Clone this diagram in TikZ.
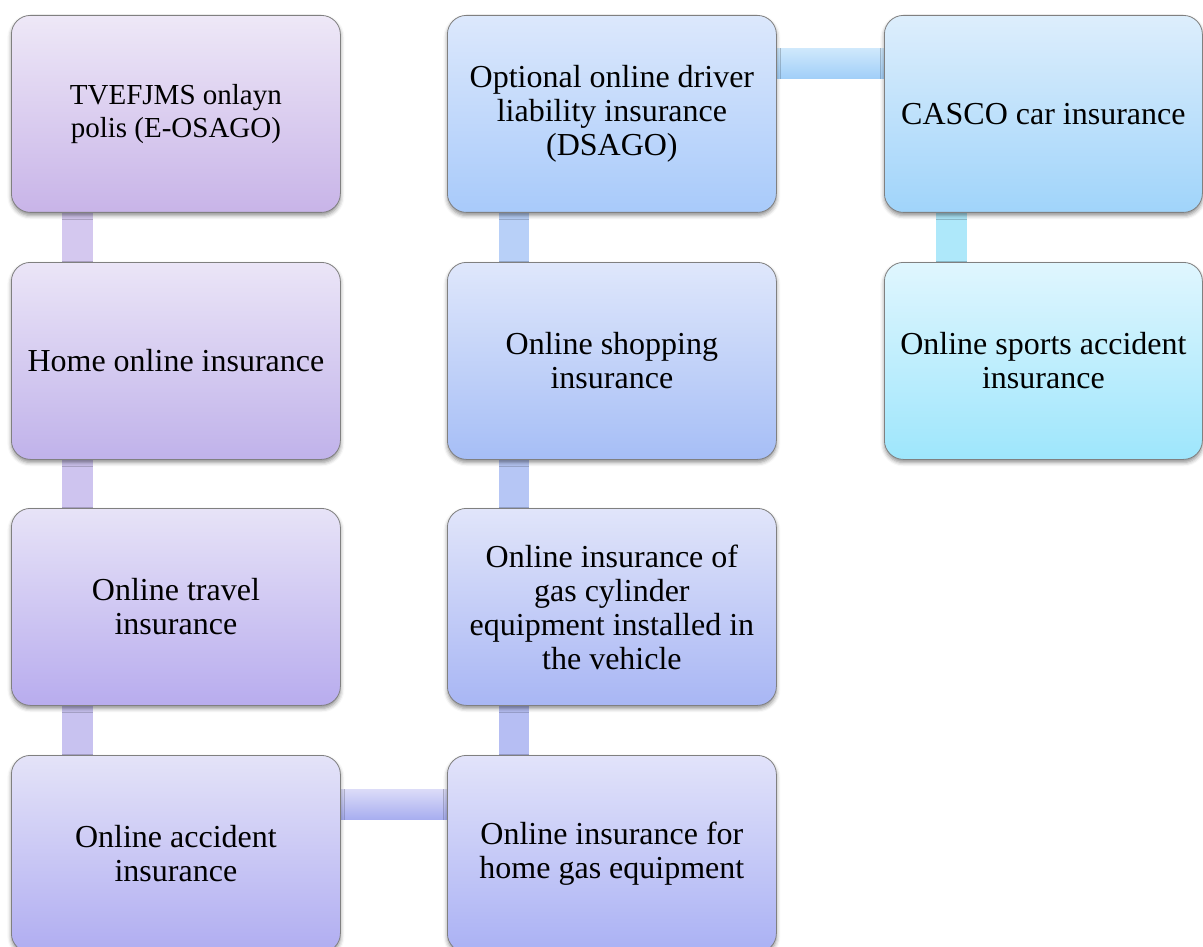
\documentclass[tikz,border=0pt]{standalone}
\usepackage{fontspec}
\setmainfont{Liberation Serif}
\usetikzlibrary{shadows.blur,backgrounds}
\definecolor{bA}{HTML}{EEE8F7}\definecolor{cA}{HTML}{C8B4E8}
\definecolor{bB}{HTML}{EBE5F7}\definecolor{cB}{HTML}{C0B2EA}
\definecolor{bC}{HTML}{E7E3F7}\definecolor{cC}{HTML}{B8ACEE}
\definecolor{bD}{HTML}{E4E3F8}\definecolor{cD}{HTML}{B0ADF1}
\definecolor{bE}{HTML}{E2E3FA}\definecolor{cE}{HTML}{AAB1F4}
\definecolor{bF}{HTML}{E1E5FA}\definecolor{cF}{HTML}{A8B6F4}
\definecolor{bG}{HTML}{DFE7FB}\definecolor{cG}{HTML}{A6BEF6}
\definecolor{bH}{HTML}{DCE8FC}\definecolor{cH}{HTML}{A8CAFA}
\definecolor{bI}{HTML}{DDEEFC}\definecolor{cI}{HTML}{A0D4FA}
\definecolor{bJ}{HTML}{E0F6FE}\definecolor{cJ}{HTML}{9EE6FC}
\begin{document}
\begin{tikzpicture}[x=1pt,y=-1pt,
  box/.style={rectangle, rounded corners=19pt, draw=black!50, line width=0.8pt,
    minimum width=329pt, minimum height=197pt, inner sep=0pt, align=center,
    anchor=north west, font=\fontsize{32}{34}\selectfont,
    blur shadow={shadow xshift=0pt, shadow yshift=-3pt, shadow blur radius=4pt, shadow opacity=45}},
  narrow/.style={minimum width=318pt},
  link/.style={draw=none}
]
\useasboundingbox (0,0) rectangle (1203,947);
\clip (0,0) rectangle (1203,947);
\node[box, top color=bA, bottom color=cA, font=\fontsize{29}{33}\selectfont] (n1) at (11,15) {TVEFJMS onlayn\\polis (E-OSAGO)};
\node[box, top color=bB, bottom color=cB] (n2) at (11,262) {Home online insurance};
\node[box, top color=bC, bottom color=cC] (n3) at (11,508) {Online travel\\insurance};
\node[box, top color=bD, bottom color=cD] (n4) at (11,755) {Online accident\\insurance};
\node[box, top color=bE, bottom color=cE] (n5) at (447,755) {Online insurance for\\home gas equipment};
\node[box, top color=bF, bottom color=cF] (n6) at (447,508) {Online insurance of\\gas cylinder\\equipment installed in\\the vehicle};
\node[box, top color=bG, bottom color=cG] (n7) at (447,262) {Online shopping\\insurance};
\node[box, top color=bH, bottom color=cH] (n8) at (447,15) {Optional online driver\\liability insurance\\(DSAGO)};
\node[box, narrow, top color=bI, bottom color=cI] (n9) at (884,15) {CASCO car insurance};
\node[box, narrow, top color=bJ, bottom color=cJ] (n10) at (884,262) {Online sports accident\\insurance};
\begin{scope}[on background layer]
\fill[link, fill={rgb,255:red,212;green,200;blue,239}] ([xshift=51pt]n1.south west) rectangle ([xshift=82pt]n2.north west);
\fill[link, fill={rgb,255:red,206;green,196;blue,239}] ([xshift=51pt]n2.south west) rectangle ([xshift=82pt]n3.north west);
\fill[link, fill={rgb,255:red,200;green,194;blue,240}] ([xshift=51pt]n3.south west) rectangle ([xshift=82pt]n4.north west);
\shade[link, top color={rgb,255:red,220;green,220;blue,248}, bottom color={rgb,255:red,168;green,174;blue,240}] ([yshift=-34pt]n4.north east) rectangle ([yshift=-64pt]n5.north west);
\fill[link, fill={rgb,255:red,182;green,190;blue,243}] ([xshift=52pt]n6.south west) rectangle ([xshift=82pt]n5.north west);
\fill[link, fill={rgb,255:red,182;green,198;blue,245}] ([xshift=52pt]n7.south west) rectangle ([xshift=82pt]n6.north west);
\fill[link, fill={rgb,255:red,184;green,208;blue,248}] ([xshift=52pt]n8.south west) rectangle ([xshift=82pt]n7.north west);
\shade[link, top color={rgb,255:red,206;green,232;blue,252}, bottom color={rgb,255:red,160;green,206;blue,248}] ([yshift=-34pt]n8.north east) rectangle ([yshift=-64pt]n9.north west);
\fill[link, fill={rgb,255:red,174;green,232;blue,250}] ([xshift=52pt]n9.south west) rectangle ([xshift=83pt]n10.north west);
\end{scope}
\end{tikzpicture}
\end{document}
